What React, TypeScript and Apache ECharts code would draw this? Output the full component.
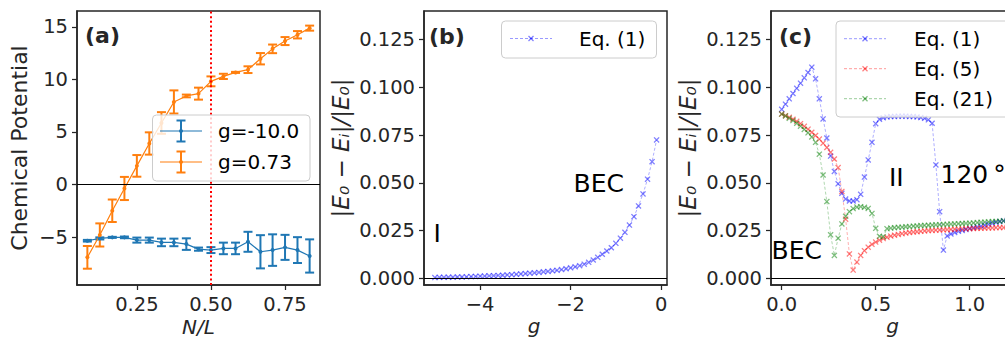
import React, { useEffect, useRef } from 'react';
import * as echarts from 'echarts';

// ---------- Panel (a): chemical potential vs N/L ----------
const NL = [0.083, 0.125, 0.167, 0.208, 0.25, 0.292, 0.333, 0.375, 0.417, 0.458, 0.5, 0.542, 0.583, 0.625, 0.667, 0.708, 0.75, 0.792, 0.833];
const MU_NEG10 = [-5.35, -5.13, -5.03, -5.03, -5.29, -5.29, -5.51, -5.51, -5.67, -6.15, -6.24, -6.08, -6.08, -5.45, -6.4, -6.24, -5.98, -6.24, -6.8];
const ERR_NEG10 = [0.08, 0.1, 0.05, 0.08, 0.24, 0.24, 0.36, 0.36, 0.55, 0.15, 0.28, 0.55, 0.55, 0.95, 1.58, 1.5, 1.19, 1.23, 1.58];
const MU_073 = [-6.93, -4.8, -2.5, -0.38, 1.77, 3.9, 5.85, 7.85, 8.42, 8.64, 9.81, 10.28, 10.66, 10.92, 11.96, 12.9, 13.64, 14.24, 14.87];
const ERR_073 = [1.08, 1.1, 1.07, 1.1, 1.03, 1.06, 1.03, 1.1, 0.13, 0.57, 0.47, 0.25, 0.05, 0.32, 0.54, 0.41, 0.38, 0.35, 0.24];
const LEGEND_A = ['g=-10.0', 'g=0.73'];

// ---------- Panel (b): relative error vs g (negative g) ----------
const G_B = [-5.0, -4.9, -4.8, -4.7, -4.6, -4.5, -4.4, -4.3, -4.2, -4.1, -4.0, -3.9, -3.8, -3.7, -3.6, -3.5, -3.4, -3.3, -3.2, -3.1, -3.0, -2.9, -2.8, -2.7, -2.6, -2.5, -2.4, -2.3, -2.2, -2.1, -2.0, -1.9, -1.8, -1.7, -1.6, -1.5, -1.4, -1.3, -1.2, -1.1, -1.0, -0.9, -0.8, -0.7, -0.6, -0.5, -0.4, -0.3, -0.2, -0.1];
const DELTA_B = [0.0004, 0.0005, 0.0005, 0.0006, 0.0006, 0.0007, 0.0007, 0.0008, 0.0009, 0.0010, 0.0011, 0.0012, 0.0013, 0.0014, 0.0015, 0.0016, 0.0018, 0.0019, 0.0021, 0.0023, 0.0025, 0.0027, 0.0029, 0.0031, 0.0034, 0.0036, 0.0039, 0.0042, 0.0046, 0.0050, 0.0055, 0.0060, 0.0066, 0.0074, 0.0084, 0.0096, 0.0110, 0.0126, 0.0143, 0.0160, 0.0183, 0.0210, 0.0241, 0.0279, 0.0323, 0.0379, 0.0442, 0.0519, 0.0611, 0.0725];

// ---------- Panel (c): relative error vs g (positive g) ----------
const G_C = [0.00, 0.02, 0.04, 0.06, 0.08, 0.10, 0.12, 0.14, 0.16, 0.18, 0.20, 0.22, 0.24, 0.26, 0.28, 0.30, 0.32, 0.34, 0.36, 0.38, 0.40, 0.42, 0.44, 0.46, 0.48, 0.50, 0.52, 0.54, 0.56, 0.58, 0.60, 0.62, 0.64, 0.66, 0.68, 0.70, 0.72, 0.74, 0.76, 0.78, 0.80, 0.82, 0.84, 0.86, 0.88, 0.90, 0.92, 0.94, 0.96, 0.98, 1.00, 1.02, 1.04, 1.06, 1.08, 1.10, 1.12, 1.14, 1.16, 1.18, 1.20];
const EQ1 = [0.0885, 0.0912, 0.0940, 0.0968, 0.0995, 0.1022, 0.1050, 0.1078, 0.1106, 0.1045, 0.0940, 0.0835, 0.0735, 0.0640, 0.0560, 0.0495, 0.0445, 0.0415, 0.0405, 0.0405, 0.0412, 0.0440, 0.0530, 0.0620, 0.0712, 0.0810, 0.0833, 0.0841, 0.0845, 0.0847, 0.0848, 0.0849, 0.0849, 0.0849, 0.0848, 0.0847, 0.0845, 0.0842, 0.0838, 0.0830, 0.0812, 0.0594, 0.0349, 0.0148, 0.0222, 0.0232, 0.0240, 0.0246, 0.0251, 0.0256, 0.0261, 0.0265, 0.0269, 0.0273, 0.0278, 0.0283, 0.0288, 0.0293, 0.0297, 0.0301, 0.0304];
const EQ5 = [0.0860, 0.0852, 0.0843, 0.0833, 0.0822, 0.0810, 0.0796, 0.0781, 0.0765, 0.0748, 0.0729, 0.0708, 0.0685, 0.0660, 0.0625, 0.0580, 0.0455, 0.0310, 0.0128, 0.0043, 0.0085, 0.0120, 0.0145, 0.0163, 0.0178, 0.0190, 0.0200, 0.0208, 0.0215, 0.0221, 0.0226, 0.0230, 0.0234, 0.0237, 0.0240, 0.0242, 0.0244, 0.0246, 0.0248, 0.0250, 0.0251, 0.0252, 0.0253, 0.0254, 0.0255, 0.0256, 0.0257, 0.0258, 0.0259, 0.0259, 0.0260, 0.0261, 0.0262, 0.0262, 0.0263, 0.0264, 0.0264, 0.0265, 0.0266, 0.0266, 0.0267];
const EQ21 = [0.0860, 0.0850, 0.0838, 0.0826, 0.0812, 0.0797, 0.0780, 0.0762, 0.0740, 0.0712, 0.0650, 0.0541, 0.0402, 0.0228, 0.0120, 0.0210, 0.0285, 0.0325, 0.0349, 0.0365, 0.0373, 0.0375, 0.0372, 0.0366, 0.0340, 0.0262, 0.0220, 0.0218, 0.0260, 0.0263, 0.0265, 0.0267, 0.0268, 0.0270, 0.0271, 0.0273, 0.0274, 0.0276, 0.0277, 0.0278, 0.0279, 0.0280, 0.0281, 0.0282, 0.0283, 0.0284, 0.0285, 0.0286, 0.0287, 0.0288, 0.0289, 0.0290, 0.0292, 0.0293, 0.0294, 0.0296, 0.0297, 0.0298, 0.0299, 0.0301, 0.0302];
const LEGEND_C = ['Eq. (1)', 'Eq. (5)', 'Eq. (21)'];

// ---------- Ticks ----------
const TICKS_A_X = [0.25, 0.5, 0.75];
const TICKS_A_Y = [-5, 0, 5, 10, 15];
const TICKS_B_X = [-4, -2, 0];
const TICKS_BC_Y = [0, 0.025, 0.05, 0.075, 0.1, 0.125];
const TICKS_C_X = [0, 0.5, 1.0];

const INK = '#262626';
const FONT = '"DejaVu Sans", sans-serif';
const BLUE_A = '#1f77b4';
const ORANGE_A = '#ff7f0e';
const C_BLUE = 'rgba(0,0,255,0.5)';
const C_RED = 'rgba(255,0,0,0.5)';
const C_GREEN = 'rgba(0,128,0,0.5)';
const X_SYMBOL = 'path://M0,1.5L1.5,0L5,3.5L8.5,0L10,1.5L6.5,5L10,8.5L8.5,10L5,6.5L1.5,10L0,8.5L3.5,5Z';

const minus = (s: string) => s.replace('-', '\u2212');

function zip(xs: number[], ys: number[]) {
  return xs.map((x, i) => [x, ys[i]]);
}
function zip3(xs: number[], ys: number[], es: number[]) {
  return xs.map((x, i) => [x, ys[i], es[i]]);
}

function axis(gridIndex: number, min: number, max: number, ticks: number[], fmt: (v: number) => string, extra: any = {}) {
  return {
    type: 'value',
    gridIndex,
    min,
    max,
    axisLine: { show: true, onZero: false, lineStyle: { color: INK, width: 1.5 } },
    axisTick: { show: true, customValues: ticks, length: 5, lineStyle: { color: INK, width: 1.25 } },
    axisLabel: { customValues: ticks, formatter: fmt, color: INK, fontSize: 19.5, fontFamily: FONT, margin: 9 },
    splitLine: { show: false },
    nameLocation: 'middle',
    nameMoveOverlap: false,
    nameTextStyle: { color: INK, fontSize: 21, fontFamily: FONT },
    ...extra,
  };
}

function errorBars(color: string, data: number[][], xi: number, yi: number) {
  return {
    type: 'custom',
    xAxisIndex: xi,
    yAxisIndex: yi,
    data,
    z: 3,
    renderItem: (params: any, api: any) => {
      const x = api.value(0);
      const y = api.value(1);
      const e = api.value(2);
      const lo = api.coord([x, y - e]);
      const hi = api.coord([x, y + e]);
      const cw = 4.5;
      const st = { stroke: color, lineWidth: 2 };
      return {
        type: 'group',
        children: [
          { type: 'line', shape: { x1: lo[0], y1: lo[1], x2: hi[0], y2: hi[1] }, style: st },
          { type: 'line', shape: { x1: lo[0] - cw, y1: lo[1], x2: lo[0] + cw, y2: lo[1] }, style: st },
          { type: 'line', shape: { x1: hi[0] - cw, y1: hi[1], x2: hi[0] + cw, y2: hi[1] }, style: st },
        ],
      };
    },
  };
}

function xLine(name: string, color: string, data: number[][], xi: number, yi: number, extra: any = {}) {
  return {
    type: 'line',
    name,
    xAxisIndex: xi,
    yAxisIndex: yi,
    data,
    symbol: X_SYMBOL,
    symbolSize: 6,
    itemStyle: { color },
    lineStyle: { color, width: 0.8, type: [3, 2], opacity: 0.8 },
    z: 4,
    ...extra,
  };
}

const zeroLine = (extraData: any[] = []) => ({
  silent: true,
  symbol: ['none', 'none'],
  label: { show: false },
  data: [{ yAxis: 0, lineStyle: { color: '#000', width: 1, type: 'solid' } }, ...extraData],
});

function legendXEntry(x: number, y: number, color: string, label: string, textX: number) {
  return [
    { type: 'line', z: 101, shape: { x1: x, y1: y, x2: x + 42, y2: y }, style: { stroke: color, lineWidth: 0.8, lineDash: [3, 2] } },
    { type: 'line', z: 101, shape: { x1: x + 18.5, y1: y - 2.5, x2: x + 23.5, y2: y + 2.5 }, style: { stroke: color, lineWidth: 1.3 } },
    { type: 'line', z: 101, shape: { x1: x + 18.5, y1: y + 2.5, x2: x + 23.5, y2: y - 2.5 }, style: { stroke: color, lineWidth: 1.3 } },
    { type: 'text', z: 101, x: textX, y, style: { text: label, fill: '#000', font: '20px ' + FONT, verticalAlign: 'middle' } },
  ];
}

function legendErrEntry(x: number, y: number, color: string, label: string, textX: number) {
  return [
    { type: 'line', z: 101, shape: { x1: x, y1: y, x2: x + 42, y2: y }, style: { stroke: color, lineWidth: 1.2 } },
    { type: 'line', z: 101, shape: { x1: x + 21, y1: y - 10.5, x2: x + 21, y2: y + 10.5 }, style: { stroke: color, lineWidth: 2 } },
    { type: 'line', z: 101, shape: { x1: x + 16.5, y1: y - 10.5, x2: x + 25.5, y2: y - 10.5 }, style: { stroke: color, lineWidth: 2 } },
    { type: 'line', z: 101, shape: { x1: x + 16.5, y1: y + 10.5, x2: x + 25.5, y2: y + 10.5 }, style: { stroke: color, lineWidth: 2 } },
    { type: 'circle', z: 101, shape: { cx: x + 21, cy: y, r: 2 }, style: { fill: color } },
    { type: 'text', z: 101, x: textX, y, style: { text: label, fill: '#000', font: '20px ' + FONT, verticalAlign: 'middle' } },
  ];
}

const legendBox = (x: number, y: number, w: number, h: number) => ({
  type: 'rect', z: 100, shape: { x, y, width: w, height: h, r: 4 },
  style: { fill: 'rgba(255,255,255,0.8)', stroke: '#cccccc', lineWidth: 1 },
});

const annot = (x: number, y: number, text: string, bold = false, size = 25, fill = '#000') => ({
  type: 'text', z: 101, x, y,
  style: { text, fill, font: (bold ? 'bold ' : '') + size + 'px ' + FONT, verticalAlign: 'middle' },
});

const Y_LABEL = '|E\u2080 \u2212 E\u1d62|/|E\u2080|';

const gridBox = (left: number) => ({
  left, top: 11, width: 243, height: 274, show: true, borderColor: INK, borderWidth: 1.5,
  containLabel: false, outerBoundsMode: 'none',
});

function buildOption() {
  const fmt3 = (v: number) => v.toFixed(3);
  const xName = { color: INK, fontSize: 20, fontFamily: FONT, fontStyle: 'italic', lineHeight: 20 };
  const yName = { color: INK, fontSize: 23, fontFamily: FONT, fontStyle: 'italic' };
  return {
    animation: false,
    backgroundColor: '#ffffff',
    grid: [gridBox(77), gridBox(424), gridBox(771)],
    xAxis: [
      axis(0, 0.048, 0.868, TICKS_A_X, (v) => v.toFixed(2), { name: 'N/L', nameGap: 32, nameTextStyle: xName }),
      axis(1, -5.24, 0.13, TICKS_B_X, (v) => minus(String(v)), { name: 'g', nameGap: 31, nameTextStyle: { ...xName, padding: [0, 23, 0, 0] } }),
      axis(2, -0.057, 1.2355, TICKS_C_X, (v) => v.toFixed(1), { name: 'g', nameGap: 31, nameTextStyle: xName }),
    ],
    yAxis: [
      axis(0, -9.56, 16.5, TICKS_A_Y, (v) => minus(String(v)), { name: 'Chemical Potential', nameGap: 47, nameTextStyle: { color: INK, fontSize: 22, fontFamily: FONT } }),
      axis(1, -0.0035, 0.14, TICKS_BC_Y, fmt3, { name: Y_LABEL, nameGap: 72, nameTextStyle: yName }),
      axis(2, -0.0035, 0.14, TICKS_BC_Y, fmt3, { name: Y_LABEL, nameGap: 72, nameTextStyle: yName }),
    ],
    series: [
      errorBars(BLUE_A, zip3(NL, MU_NEG10, ERR_NEG10), 0, 0),
      {
        type: 'line', name: LEGEND_A[0], xAxisIndex: 0, yAxisIndex: 0, data: zip(NL, MU_NEG10),
        symbol: 'circle', symbolSize: 4, itemStyle: { color: BLUE_A }, lineStyle: { color: BLUE_A, width: 1.2 }, z: 3,
        markLine: zeroLine([{ xAxis: 0.5, lineStyle: { color: '#ff0000', width: 2, type: [2, 2.6] } }]),
      },
      errorBars(ORANGE_A, zip3(NL, MU_073, ERR_073), 0, 0),
      {
        type: 'line', name: LEGEND_A[1], xAxisIndex: 0, yAxisIndex: 0, data: zip(NL, MU_073),
        symbol: 'circle', symbolSize: 4, itemStyle: { color: ORANGE_A }, lineStyle: { color: ORANGE_A, width: 1.2 }, z: 3,
      },
      xLine(LEGEND_C[0], C_BLUE, zip(G_B, DELTA_B), 1, 1, { markLine: zeroLine() }),
      xLine(LEGEND_C[0], C_BLUE, zip(G_C, EQ1), 2, 2, { markLine: zeroLine() }),
      xLine(LEGEND_C[1], C_RED, zip(G_C, EQ5), 2, 2),
      xLine(LEGEND_C[2], C_GREEN, zip(G_C, EQ21), 2, 2),
    ],
    graphic: [
      // panel labels
      annot(85, 35, '(a)', true, 22, INK),
      annot(429, 36, '(b)', true, 22, INK),
      annot(779, 36, '(c)', true, 22, INK),
      // phase annotations
      annot(573.5, 183, 'BEC'),
      annot(433.5, 233, 'I'),
      annot(771.5, 250.5, 'BEC'),
      annot(889, 177, 'II'),
      annot(940.5, 174, '120\u2009\u00b0'),
      // legend (a)
      legendBox(152.5, 115, 157.5, 66),
      ...legendErrEntry(160, 131, BLUE_A, LEGEND_A[0], 218),
      ...legendErrEntry(160, 162, ORANGE_A, LEGEND_A[1], 218),
      // legend (b)
      legendBox(501.5, 21, 155, 37),
      ...legendXEntry(510, 38.5, C_BLUE, LEGEND_C[0], 579),
      // legend (c)
      legendBox(836, 21, 180, 96),
      ...legendXEntry(844, 38.7, C_BLUE, LEGEND_C[0], 914),
      ...legendXEntry(844, 68.7, C_RED, LEGEND_C[1], 914),
      ...legendXEntry(844, 98.7, C_GREEN, LEGEND_C[2], 914),
    ],
  };
}

export default function App() {
  const ref = useRef<HTMLDivElement>(null);
  useEffect(() => {
    const chart = echarts.init(ref.current as HTMLDivElement, null, { renderer: 'svg' });
    chart.setOption(buildOption() as any);
    return () => chart.dispose();
  }, []);
  return (
    <div
      ref={ref}
      style={{ position: 'absolute', left: 0, top: 0, width: 1005, height: 339, background: '#fff' }}
    />
  );
}
